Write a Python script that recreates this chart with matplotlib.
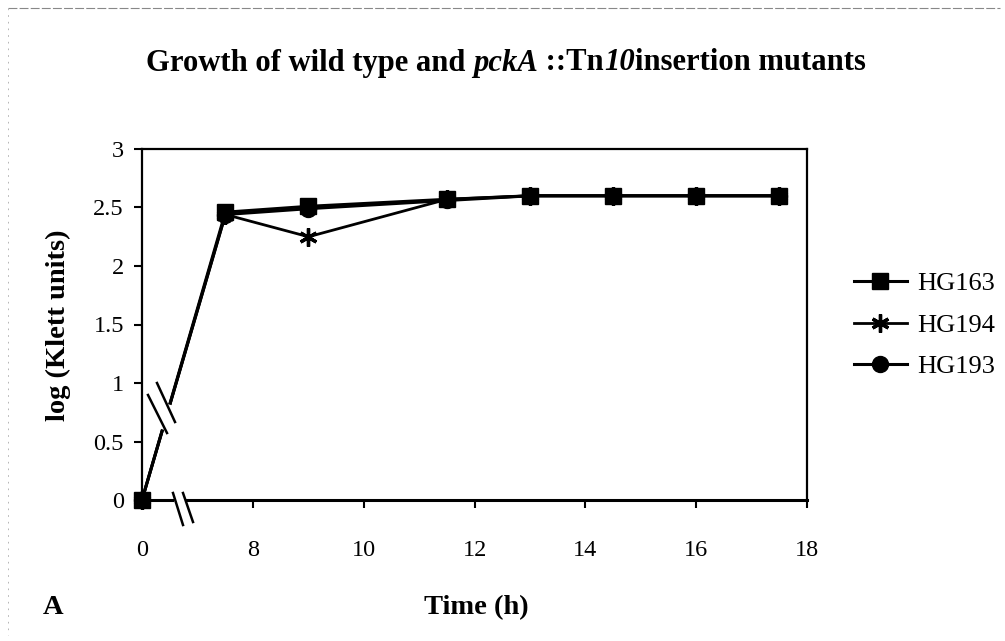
import numpy as np
import matplotlib
matplotlib.use("Agg")
import matplotlib.pyplot as plt
from matplotlib.lines import Line2D

# ---- data ----
time_h = [0, 7.5, 9, 11.5, 13, 14.5, 16, 17.5]
hg163 = [0, 2.46, 2.51, 2.57, 2.60, 2.60, 2.60, 2.60]
hg194 = [0, 2.44, 2.25, 2.57, 2.60, 2.60, 2.60, 2.60]
hg193 = [0, 2.44, 2.49, 2.56, 2.60, 2.60, 2.60, 2.60]
x_ticks = [0, 8, 10, 12, 14, 16, 18]
y_ticks = [0, 0.5, 1, 1.5, 2, 2.5, 3]
y_tick_labels = ["0", "0.5", "1", "1.5", "2", "2.5", "3"]
series_labels = ["HG163", "HG194", "HG193"]

plt.rcParams["font.family"] = ["Liberation Serif", "DejaVu Serif"]

W, H = 1005, 641
fig = plt.figure(figsize=(W / 100, H / 100), dpi=100)
fig.patch.set_facecolor("white")

def P(px, py):
    return (px / W, 1 - py / H)

ax = fig.add_axes([142 / W, 1 - 500 / H, 665 / W, 351 / H])

# broken x-axis: 0 .. 6 squeezed to (almost) a point
def fwd(t):
    t = np.asarray(t, dtype=float)
    return np.where(t >= 6, t, 6 - (6 - t) * 0.001)

def inv(u):
    u = np.asarray(u, dtype=float)
    return np.where(u >= 6, u, 6 - (6 - u) / 0.001)

ax.set_xscale("function", functions=(fwd, inv))
ax.set_xlim(0, 18)
ax.set_ylim(0, 3)

ax.plot(time_h, hg193, color="black", lw=2.2, marker="o", ms=11.5, zorder=3, clip_on=False)
ax.plot(time_h, hg194, color="black", lw=2.0, marker=(6, 2, 0), ms=13, mew=2.4, zorder=4, clip_on=False)
ax.plot(time_h, hg163, color="black", lw=2.2, marker="s", ms=11.5, zorder=5, clip_on=False)

ax.set_xticks(x_ticks)
ax.set_xticklabels([str(v) for v in x_ticks])
ax.set_yticks(y_ticks)
ax.set_yticklabels(y_tick_labels)
ax.minorticks_off()
ax.tick_params(axis="both", direction="out", length=6, width=1.5, labelsize=17.5, colors="black")
ax.tick_params(axis="x", pad=23)
ax.tick_params(axis="y", pad=7)
for s in ax.spines.values():
    s.set_linewidth(1.6)
ax.spines["bottom"].set_linewidth(2.2)

fig.text(58 / W, 1 - 325 / H, "log (Klett units)", rotation=90, ha="center", va="center",
         fontsize=20.5, fontweight="bold")
fig.text(476 / W, 1 - 608 / H, "Time (h)", ha="center", va="center", fontsize=20.5, fontweight="bold")
fig.text(53 / W, 1 - 608 / H, "A", ha="center", va="center", fontsize=20.5, fontweight="bold")

# title composed of regular-bold and italic-bold pieces
pieces = [("Growth of wild type and ", "normal"), ("pckA", "italic"), (" ::Tn", "normal"),
          ("10", "italic"), ("insertion mutants", "normal")]
renderer = fig.canvas.get_renderer()
target_w, cx, cy = 718, 506, 63
fs = 21
def measure(size):
    ts, total = [], 0
    for txt, st in pieces:
        t = fig.text(0, 0, txt, fontsize=size, fontweight="bold", fontstyle=st, va="center", ha="left")
        w = t.get_window_extent(renderer).width
        ts.append((t, w))
        total += w
    return ts, total
ts, total = measure(fs)
for t, _ in ts:
    t.remove()
fs = fs * target_w / total
ts, total = measure(fs)
x0 = cx - total / 2
for t, w in ts:
    t.set_position(P(x0, cy))
    x0 += w

# legend
h163 = Line2D([], [], color="black", lw=2.2, marker="s", ms=11.5)
h194 = Line2D([], [], color="black", lw=2.0, marker=(6, 2, 0), ms=13, mew=2.4)
h193 = Line2D([], [], color="black", lw=2.2, marker="o", ms=11.5)
fig.legend([h163, h194, h193], series_labels, loc="upper left",
           bbox_to_anchor=P(854, 272), frameon=False, fontsize=19, handlelength=2.0,
           handletextpad=0.4, labelspacing=0.68, borderpad=0, borderaxespad=0)

# axis break marks
def seg(p1, p2, **kw):
    a, b = P(*p1), P(*p2)
    fig.add_artist(Line2D([a[0], b[0]], [a[1], b[1]], transform=fig.transFigure, **kw))

seg((177, 500), (183, 500), color="white", lw=4, zorder=10)
seg((173, 493), (183, 525), color="black", lw=1.8, zorder=11)
seg((183, 493), (193, 522), color="black", lw=1.8, zorder=11)
seg((163.5, 426), (168.7, 408), color="white", lw=5, zorder=10)
seg((148, 395), (167, 433), color="black", lw=1.8, zorder=11)
seg((157, 383), (175, 422), color="black", lw=1.8, zorder=11)

# scan page border remnants
seg((8, 8), (1000, 8), color="#888888", lw=0.8, ls=(0, (8, 2)))
seg((8, 8), (8, 635), color="#aaaaaa", lw=0.6, ls=(0, (2, 6)))

fig.savefig("out.png", dpi=100, facecolor="white")
